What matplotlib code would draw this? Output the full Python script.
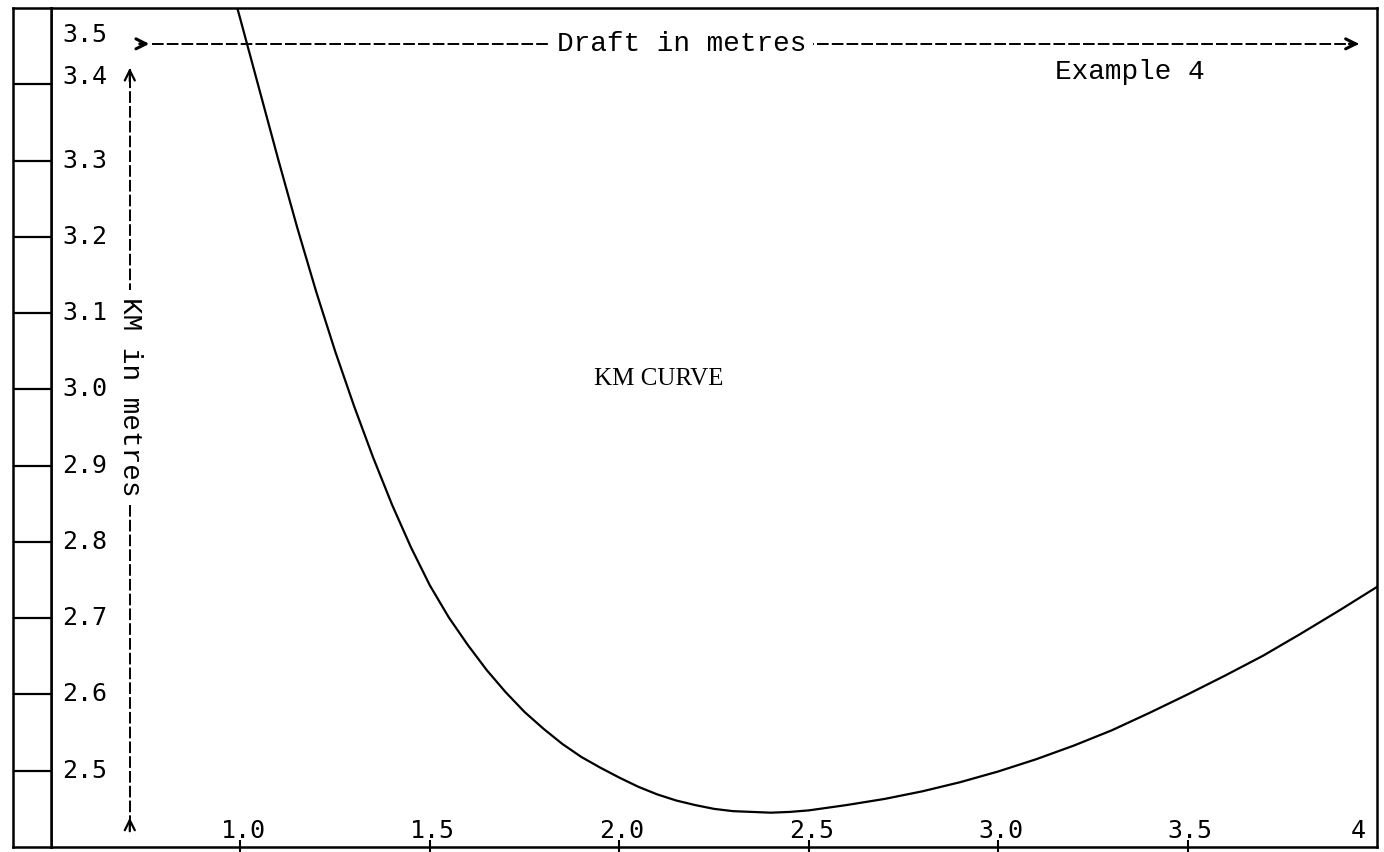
import matplotlib
matplotlib.use("Agg")
import matplotlib.pyplot as plt

# KM curve (draft in m, KM in m)
draft = [0.99, 1.00, 1.05, 1.10, 1.15, 1.20, 1.25, 1.30, 1.35, 1.40, 1.45,
         1.50, 1.55, 1.60, 1.65, 1.70, 1.75, 1.80, 1.85, 1.90, 1.95,
         2.00, 2.05, 2.10, 2.15, 2.20, 2.25, 2.30, 2.35, 2.40, 2.45,
         2.50, 2.60, 2.70, 2.80, 2.90, 3.00, 3.10, 3.20, 3.30, 3.40,
         3.50, 3.60, 3.70, 3.80, 3.90, 4.00]
km = [3.503, 3.485, 3.393, 3.301, 3.212, 3.128, 3.050, 2.978, 2.911, 2.849, 2.793,
      2.743, 2.701, 2.665, 2.632, 2.603, 2.577, 2.555, 2.535, 2.518, 2.504,
      2.491, 2.479, 2.469, 2.461, 2.455, 2.450, 2.447, 2.446, 2.445, 2.446,
      2.448, 2.455, 2.463, 2.473, 2.485, 2.499, 2.515, 2.533, 2.553, 2.576,
      2.600, 2.625, 2.651, 2.680, 2.710, 2.741]

draft_ticks = [1.0, 1.5, 2.0, 2.5, 3.0, 3.5, 4.0]
draft_labels = ["1.0", "1.5", "2.0", "2.5", "3.0", "3.5", "4"]
km_ticks = [2.5, 2.6, 2.7, 2.8, 2.9, 3.0, 3.1, 3.2, 3.3, 3.4, 3.5]
km_labels = ["2.5", "2.6", "2.7", "2.8", "2.9", "3.0", "3.1", "3.2", "3.3", "3.4", "3.5"]

W, H = 1384, 852
left, right, top, bottom = 51, 1377, 8, 847

fig = plt.figure(figsize=(W / 100, H / 100), dpi=100)
ax = fig.add_axes([left / W, (H - bottom) / H, (right - left) / W, (bottom - top) / H])
strip = fig.add_axes([13 / W, (H - bottom) / H, (left - 13) / W, (bottom - top) / H], sharey=ax)

ax.set_xlim(0.5, 4.0)
ax.set_ylim(2.4, 3.5)
for a in (ax, strip):
    for s in a.spines.values():
        s.set_linewidth(1.8)
strip.set_xlim(0, 1)
strip.set_xticks([])
strip.tick_params(left=False, labelleft=False)
for v in km_ticks[:-1]:
    strip.axhline(v, color="black", lw=1.6)

ax.set_xticks(draft_ticks[:-1])
ax.tick_params(axis="x", direction="inout", length=10, width=1.5, labelbottom=False)
ax.tick_params(axis="y", left=False, labelleft=False)

num_font = dict(family="DejaVu Sans Mono", fontsize=18)
for i, (v, lab) in enumerate(zip(km_ticks, km_labels)):
    va, dy = "center", 0
    if i == len(km_ticks) - 1:
        va, dy = "top", -11
    elif i == len(km_ticks) - 2:
        dy = 5
    ax.annotate(lab, xy=(0, v), xycoords=("axes fraction", "data"),
                xytext=(8, dy), textcoords="offset points", ha="left", va=va, **num_font)
for i, (v, lab) in enumerate(zip(draft_ticks, draft_labels)):
    ha, dx = "center", 2
    if i == len(draft_ticks) - 1:
        ha, dx = "right", -8
    ax.annotate(lab, xy=(v, 0), xycoords=("data", "axes fraction"),
                xytext=(dx, 6.5), textcoords="offset points", ha=ha, va="baseline", **num_font)

# the curve
ax.plot(draft, km, color="black", lw=1.6, solid_joinstyle="round")

dash = (0, (6, 1.6))
label_font = dict(family="Liberation Mono", fontsize=20)
white = dict(facecolor="white", edgecolor="none", pad=5)

# draft arrow along the top
ya = 3.453
ax.plot([0.767, 3.95], [ya, ya], color="black", lw=1.4, ls=dash)
for tip in (0.767, 3.960):
    ax.annotate("", xy=(tip, ya), xytext=(tip - 0.04, ya),
                arrowprops=dict(arrowstyle="->", lw=2.2, color="black", mutation_scale=18))
ax.text(2.165, ya, "Draft in metres", ha="center", va="center", bbox=white, **label_font)

# KM arrow up the left side
xa = 0.708
ax.plot([xa, xa], [2.426, 3.42], color="black", lw=1.4, ls=dash)
for tip in (2.442, 3.425):
    ax.annotate("", xy=(xa, tip), xytext=(xa, tip - 0.025),
                arrowprops=dict(arrowstyle="->", lw=1.6, color="black", mutation_scale=18))
ax.text(xa, 2.99, "KM in metres", rotation=-90, ha="center", va="center", bbox=white, **label_font)

ax.text(3.348, 3.416, "Example 4", ha="center", va="center", **label_font)
ax.text(2.105, 3.014, "KM CURVE", ha="center", va="center", family="Liberation Serif", fontsize=18)

fig.savefig("out.png", dpi=100)
